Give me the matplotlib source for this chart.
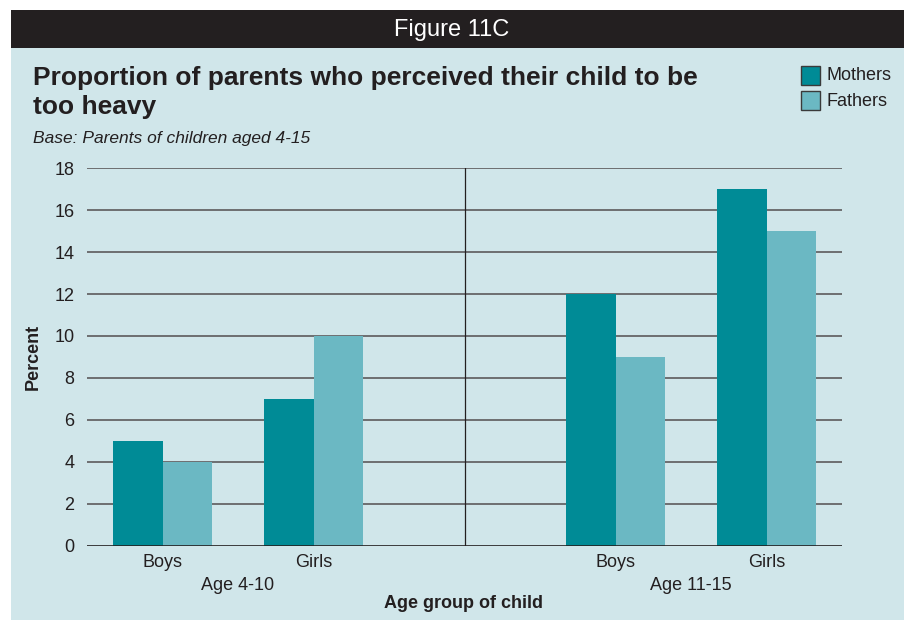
import numpy as np
import matplotlib.pyplot as plt
from matplotlib.patches import Rectangle
from matplotlib.transforms import blended_transform_factory

# ── Data ──────────────────────────────────────────────────────────────────────
CATEGORIES = ["Boys", "Girls", "Boys", "Girls"]
POSITIONS  = [0, 1, 3, 4]
GROUPS     = ["Age 4-10", "Age 11-15"]
GROUP_POS  = [0.5, 3.5]
MOTHERS    = [5, 7, 12, 17]
FATHERS    = [4, 10, 9, 15]
YTICKS     = [0, 2, 4, 6, 8, 10, 12, 14, 16, 18]

# ── Style ─────────────────────────────────────────────────────────────────────
W, H       = 906, 627
BG         = "#d0e6ea"
HEADER     = "#231f20"
C_MOTHERS  = "#008b96"
C_FATHERS  = "#6bb8c3"
GRID       = "#6d6e70"
TEXT       = "#231f20"
FONT       = ["Liberation Sans", "DejaVu Sans"]

plt.rcParams["font.family"] = FONT

fig = plt.figure(figsize=(W / 100, H / 100), dpi=100)
fig.patch.set_facecolor("white")


def fx(px):
    return px / W


def fy(py):
    return 1 - py / H


# panel + header bar
fig.patches.append(Rectangle((fx(11), fy(620)), fx(904) - fx(11), fy(10) - fy(620),
                             transform=fig.transFigure, facecolor=BG, edgecolor="none", zorder=-5))
fig.patches.append(Rectangle((fx(11), fy(48)), fx(904) - fx(11), fy(10) - fy(48),
                             transform=fig.transFigure, facecolor=HEADER, edgecolor="none", zorder=-4))
fig.text(fx(452), fy(30), "Figure 11C", color="white", fontsize=17, ha="center", va="center")

fig.text(fx(33), fy(66), "Proportion of parents who perceived their child to be\ntoo heavy",
         fontsize=19, fontweight="bold", color=TEXT, ha="left", va="top", linespacing=1.25)
fig.text(fx(33), fy(138), "Base: Parents of children aged 4-15", fontsize=12.5,
         style="italic", color=TEXT, ha="left", va="center")

# legend
for i, (lab, col) in enumerate([("Mothers", C_MOTHERS), ("Fathers", C_FATHERS)]):
    top = 66 + i * 25
    fig.patches.append(Rectangle((fx(801), fy(top + 19)), fx(19), fy(0) - fy(19),
                                 transform=fig.transFigure, facecolor=col,
                                 edgecolor="#3a3a3a", linewidth=1.0, zorder=2))
    fig.text(fx(826), fy(top + 10), lab, fontsize=13, color=TEXT, ha="left", va="center")

# ── Axes ──────────────────────────────────────────────────────────────────────
ax = fig.add_axes([fx(87), fy(546), fx(842) - fx(87), fy(168) - fy(546)])
ax.set_facecolor("none")
ax.set_zorder(5)

x = np.array(POSITIONS, dtype=float)
bw = 0.33
ax.bar(x - bw / 2, MOTHERS, bw, color=C_MOTHERS, zorder=3)
ax.bar(x + bw / 2, FATHERS, bw, color=C_FATHERS, zorder=3)

for t in YTICKS[1:]:
    ax.axhline(t, color=GRID, linewidth=1.4, zorder=1)
ax.axhline(0, color=TEXT, linewidth=1.2, zorder=4)
ax.axvline(2, color=TEXT, linewidth=0.9, zorder=2)

ax.set_xlim(-0.5, 4.5)
ax.set_ylim(0, 18)
ax.set_yticks(YTICKS)
ax.set_yticklabels([str(t) for t in YTICKS], fontsize=13, color=TEXT)
ax.set_xticks(x)
ax.set_xticklabels(CATEGORIES, fontsize=13, color=TEXT)
ax.tick_params(axis="both", length=0)
ax.tick_params(axis="y", pad=9)
ax.tick_params(axis="x", pad=6)
for s in ax.spines.values():
    s.set_visible(False)

grp_tr = blended_transform_factory(ax.transData, fig.transFigure)
for g, cx in zip(GROUPS, GROUP_POS):
    ax.text(cx, fy(585), g, transform=grp_tr, fontsize=13, color=TEXT,
            ha="center", va="center")

fig.text(fx(464), fy(603), "Age group of child", fontsize=13, fontweight="bold",
         color=TEXT, ha="center", va="center")
fig.text(fx(33), fy(357), "Percent", fontsize=13, fontweight="bold", color=TEXT,
         rotation=90, ha="center", va="center")

fig.savefig("out.png", dpi=100, facecolor=fig.get_facecolor())
